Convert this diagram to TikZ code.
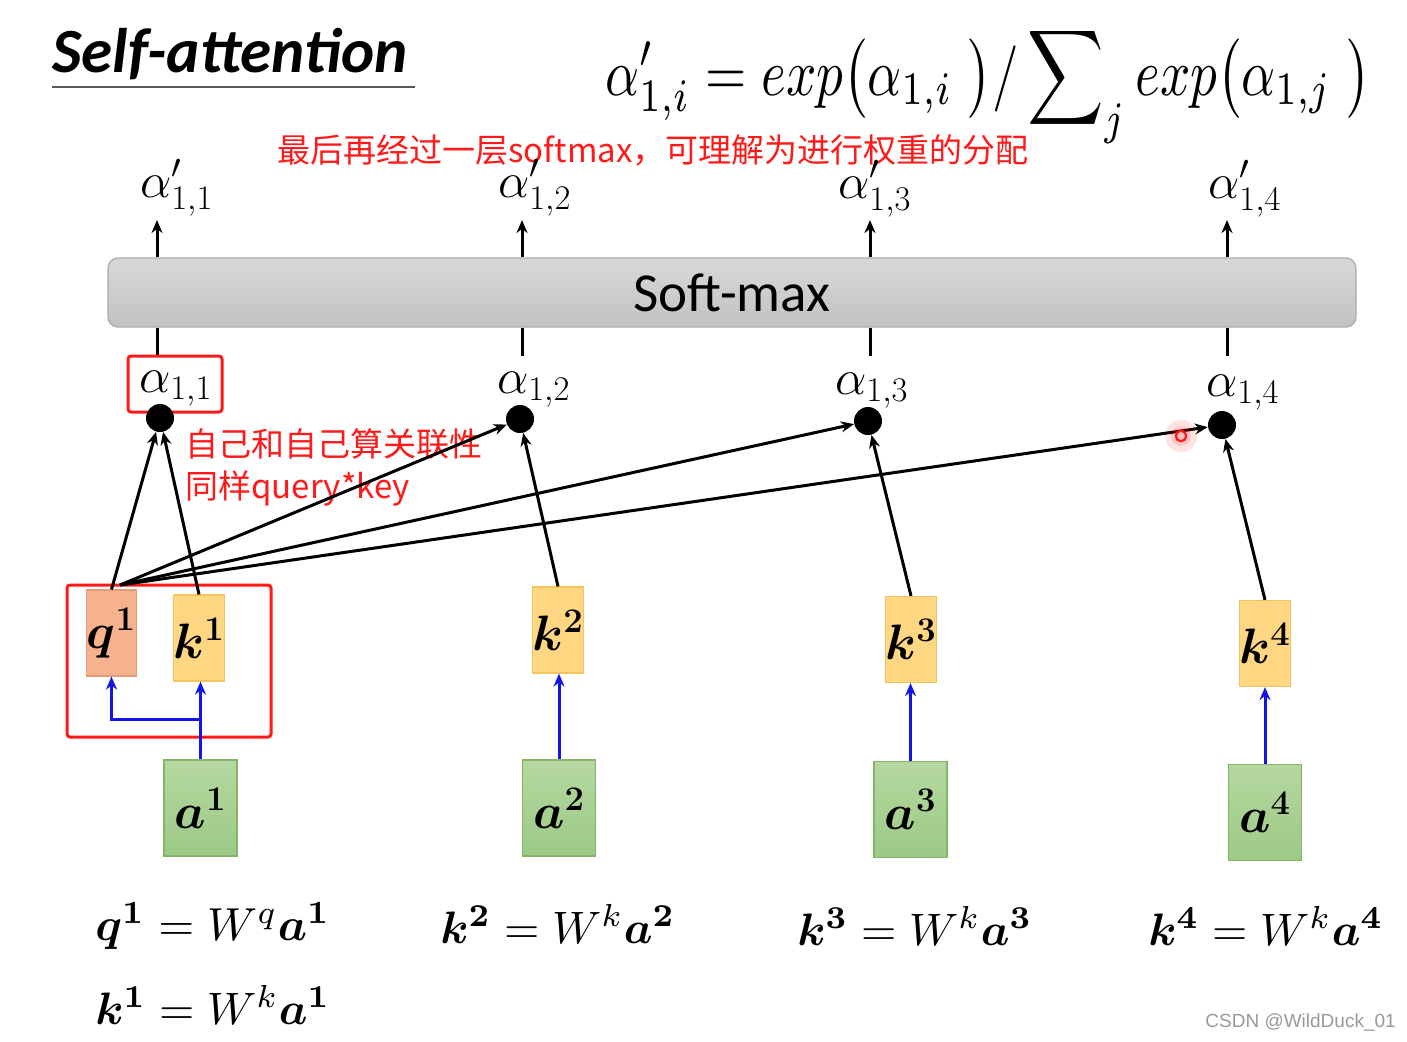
\documentclass[tikz,border=0pt]{standalone}
\usepackage{fontspec}
\usepackage{amsmath,amssymb,bm}
\usepackage{graphicx}
\usetikzlibrary{arrows.meta}
\newfontfamily\cjk{Noto Sans CJK SC}
\newfontfamily\carl{Carlito}
\newfontfamily\wmf{Liberation Sans}
\definecolor{qfill}{HTML}{F5B28C}
\definecolor{qdraw}{HTML}{E39C7C}
\definecolor{kfill}{HTML}{FFD783}
\definecolor{kdraw}{HTML}{F4C45C}
\definecolor{atop}{HTML}{B5D8A0}
\definecolor{abot}{HTML}{9CC985}
\definecolor{adraw}{HTML}{84B568}
\definecolor{smtop}{HTML}{D8D8D8}
\definecolor{smbot}{HTML}{C2C2C2}
\definecolor{smdraw}{HTML}{ABABAB}
\definecolor{bluec}{HTML}{1414E6}
\definecolor{redc}{HTML}{FF1A1A}
\begin{document}
\begin{tikzpicture}[x=0.5pt,y=-0.5pt,
  arr/.style={line width=1.5pt,-{Stealth[length=6.5pt,width=5.5pt]}},
  barr/.style={line width=1.5pt,draw=bluec,-{Stealth[length=6.5pt,width=5.5pt]}},
  ln/.style={line width=1.5pt},
  redbox/.style={draw=redc,line width=1.5pt,rounded corners=1.5pt},
  mlab/.style={inner sep=0pt,font=\fontsize{24}{28}\selectfont},
  rednote/.style={inner sep=0pt,text=redc,font=\cjk\fontsize{16.5}{20}\selectfont},
  qbox/.style={draw=qdraw,fill=qfill,line width=0.6pt,minimum width=23.5pt,minimum height=43pt,inner sep=0pt,font=\fontsize{24}{28}\selectfont},
  kbox/.style={draw=kdraw,fill=kfill,line width=0.6pt,minimum width=23pt,minimum height=43pt,inner sep=0pt,font=\fontsize{24}{28}\selectfont},
  abox/.style={draw=adraw,top color=atop,bottom color=abot,line width=0.6pt,minimum width=36.5pt,minimum height=48pt,inner sep=0pt,font=\fontsize{27}{32}\selectfont},
  blackdot/.style={circle,fill=black,minimum size=14pt,inner sep=0pt},
  smbox/.style={draw=smdraw,top color=smtop,bottom color=smbot,rounded corners=5pt,line width=0.6pt,minimum width=624pt,minimum height=34.5pt,inner sep=0pt,font=\carl\fontsize{27.5}{32}\selectfont},
  eqn/.style={anchor=base west,inner sep=0pt}
]
\fill[white] (0,0) rectangle (1407,1041);
\useasboundingbox (0,0) rectangle (1407,1041);

% title
\node[anchor=base west,inner sep=0pt,font=\carl\bfseries\itshape\fontsize{31.5}{36}\selectfont] (title) at (52,72) {Self-attention};
\draw[line width=1pt,color=black!65] (52,87) -- (415,87);

% formula
\node[anchor=base west,inner sep=0pt] (formula) at (605,95) {\resizebox{382.5pt}{!}{\scalebox{0.8}[1]{$\displaystyle \alpha'_{1,i} = exp\bigl(\alpha_{1,i}\;\bigr)/\sum\nolimits_j exp\bigl(\alpha_{1,j}\;\bigr)$}}};

% red note top
\node[rednote,anchor=west] (note1) at (277,150) {最后再经过一层softmax，可理解为进行权重的分配};

% alpha prime labels
\node[mlab,anchor=base west] (ap1) at (140,197) {$\alpha'_{1,1}$};
\node[mlab,anchor=base west] (ap2) at (498,197) {$\alpha'_{1,2}$};
\node[mlab,anchor=base west] (ap3) at (838,198) {$\alpha'_{1,3}$};
\node[mlab,anchor=base west] (ap4) at (1208,198) {$\alpha'_{1,4}$};

% softmax
\node[smbox] (sm) at (732,292.5) {Soft-max};

\coordinate (t1) at (157,220);
\coordinate (t2) at (522,220);
\coordinate (t3) at (870,220);
\coordinate (t4) at (1227,220);
\draw[arr] (sm.north -| t1) -- (t1);
\draw[arr] (sm.north -| t2) -- (t2);
\draw[arr] (sm.north -| t3) -- (t3);
\draw[arr] (sm.north -| t4) -- (t4);

\coordinate (b1) at (157,356);
\coordinate (b2) at (522,356);
\coordinate (b3) at (870,356);
\coordinate (b4) at (1227,356);
\draw[ln] (sm.south -| b1) -- (b1);
\draw[ln] (sm.south -| b2) -- (b2);
\draw[ln] (sm.south -| b3) -- (b3);
\draw[ln] (sm.south -| b4) -- (b4);

% alpha labels
\node[mlab,anchor=base west] (al1) at (139,392) {$\alpha_{1,1}$};
\node[mlab,anchor=base west] (al2) at (497,393) {$\alpha_{1,2}$};
\node[mlab,anchor=base west] (al3) at (835,394) {$\alpha_{1,3}$};
\node[mlab,anchor=base west] (al4) at (1206,396) {$\alpha_{1,4}$};

\draw[redbox] (128,356) rectangle (222,412);

% dots
\node[blackdot] (d1) at (160,418) {};
\node[blackdot] (d2) at (520,419) {};
\node[blackdot] (d3) at (868,421) {};
\node[blackdot] (d4) at (1222,425) {};

% red notes
\node[rednote,anchor=west] (note2) at (185,444) {自己和自己算关联性};
\node[rednote,anchor=west] (note3) at (185,488) {同样query*key};

% q/k boxes
\node[qbox] (q1) at (111.5,633) {$\bm{q}^{\bm{1}}$};
\node[kbox] (k1) at (199,638) {$\bm{k}^{\bm{1}}$};
\node[kbox] (k2) at (558,630) {$\bm{k}^{\bm{2}}$};
\node[kbox] (k3) at (911,639.5) {$\bm{k}^{\bm{3}}$};
\node[kbox] (k4) at (1265,643.5) {$\bm{k}^{\bm{4}}$};

\draw[redbox] (67,585) rectangle (271,737);

% a boxes
\node[abox] (a1) at (200.5,808) {$\bm{a}^{\bm{1}}$};
\node[abox] (a2) at (559,808) {$\bm{a}^{\bm{2}}$};
\node[abox] (a3) at (910.5,809.5) {$\bm{a}^{\bm{3}}$};
\node[abox] (a4) at (1265,812.5) {$\bm{a}^{\bm{4}}$};

% black connectors
\coordinate (qs) at (120,585);
\draw[arr] (q1.north) -- (d1);
\draw[arr] (k1.north) -- (d1);
\draw[arr] (qs) -- (d2);
\draw[arr] (qs) -- (d3);
\draw[arr] (qs) -- (d4);
\draw[arr] (k2.north) -- (d2);
\draw[arr] (k3.north) -- (d3);
\draw[arr] (k4.north) -- (d4);

% blue connectors
\draw[barr] (a1.north) -- (a1.north |- k1.south);
\coordinate (br) at (200.5,719);
\draw[barr] (br) -| (q1.south);
\draw[barr] (a2.north) -- (a2.north |- k2.south);
\draw[barr] (a3.north) -- (a3.north |- k3.south);
\draw[barr] (a4.north) -- (a4.north |- k4.south);

% cursor mark
\fill[redc,opacity=0.12] (1181,436) circle (8pt);
\fill[redc,opacity=0.15] (1181,436) circle (5pt);
\draw[redc,line width=1.1pt,fill=white!75!red] (1181,436) circle (2.6pt);

% equations
\node[eqn] (e1) at (95,940) {\resizebox{117.5pt}{!}{$\bm{q}^{\bm{1}} = W^{q}\bm{a}^{\bm{1}}$}};
\node[eqn] (e2) at (95,1024) {\resizebox{117.5pt}{!}{$\bm{k}^{\bm{1}} = W^{k}\bm{a}^{\bm{1}}$}};
\node[eqn] (e3) at (440,943) {\resizebox{117.5pt}{!}{$\bm{k}^{\bm{2}} = W^{k}\bm{a}^{\bm{2}}$}};
\node[eqn] (e4) at (797,945) {\resizebox{117.5pt}{!}{$\bm{k}^{\bm{3}} = W^{k}\bm{a}^{\bm{3}}$}};
\node[eqn] (e5) at (1148,945) {\resizebox{117.5pt}{!}{$\bm{k}^{\bm{4}} = W^{k}\bm{a}^{\bm{4}}$}};

% watermark
\node[anchor=west,inner sep=0pt,text=black!40,font=\wmf\fontsize{9.5}{11}\selectfont] (wm) at (1205,1022) {CSDN @WildDuck\_01};
\end{tikzpicture}
\end{document}
